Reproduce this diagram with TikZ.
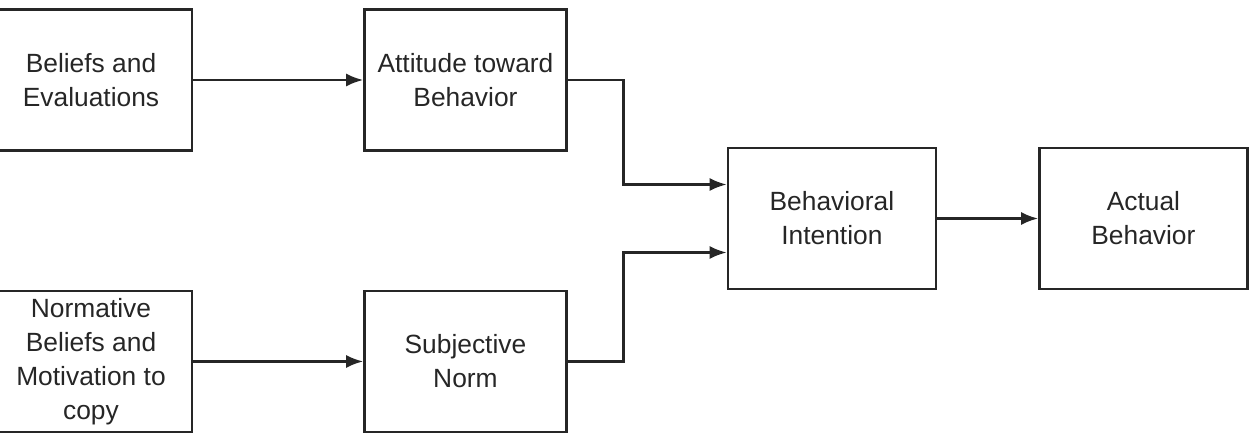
\documentclass[tikz,border=0pt]{standalone}
\usepackage{fontspec}
\setmainfont{Liberation Sans}
\usetikzlibrary{arrows.meta,positioning,calc}

\begin{document}
\begin{tikzpicture}[
  node distance=27.6mm and 34.0mm,
  box/.style={draw=black!85, line width=1.4pt, align=center, minimum width=40.4mm, minimum height=28.2mm, text=black!85, font=\fontsize{15}{19.3}\selectfont},
  widebox/.style={box, minimum width=41.6mm},
  flow/.style={-{Latex[length=3.4mm,width=2.6mm]}, line width=1.4pt, draw=black!85}
]
\useasboundingbox (0,0) rectangle (25.1,-8.66);

\node[box] (beliefs) at (1.82,-1.6) {Beliefs and\\Evaluations};
\node[box, right=of beliefs] (attitude) {Attitude toward\\Behavior};
\node[box, below=of beliefs] (normative) {Normative\\Beliefs and\\Motivation to\\copy};
\node[box, below=of attitude] (subjective) {Subjective\\Norm};
\node[widebox, right=31.8mm of attitude, yshift=-27.7mm] (intention) {Behavioral\\Intention};
\node[widebox, right=20.2mm of intention] (actual) {Actual\\Behavior};

\draw[flow] (beliefs) -- (attitude);
\draw[flow] (normative) -- (subjective);
\draw[flow] (attitude.east) -- ++(1.12,0) |- ([yshift=6.8mm]intention.west);
\draw[flow] (subjective.east) -- ++(1.12,0) |- ([yshift=-6.8mm]intention.west);
\draw[flow] (intention) -- (actual);

\end{tikzpicture}
\end{document}
